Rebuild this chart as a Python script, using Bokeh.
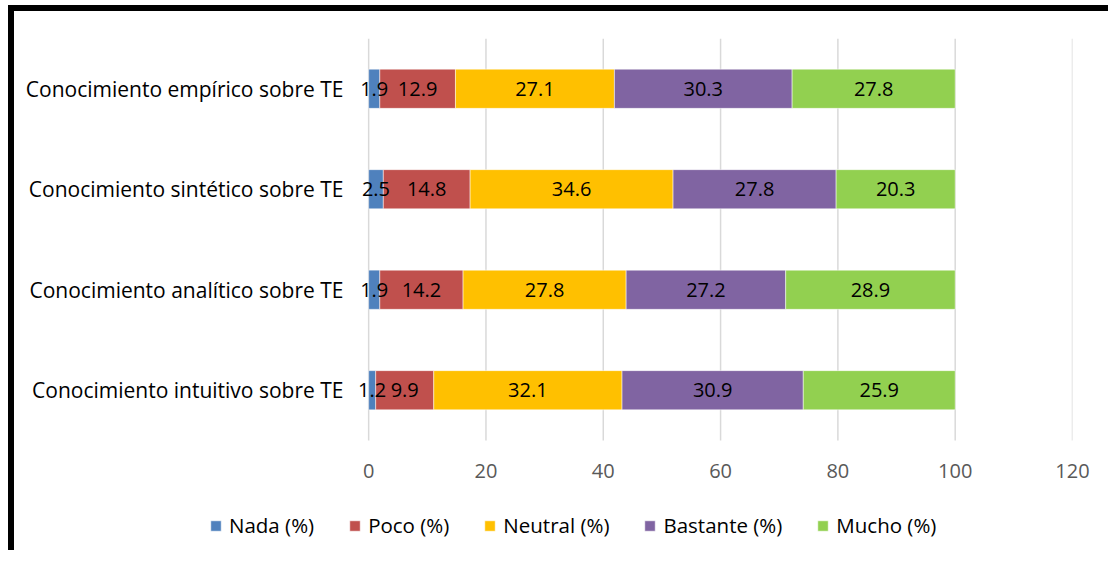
from bokeh.plotting import figure
from bokeh.models import ColumnDataSource, Legend, LegendItem, LabelSet, FixedTicker, Range1d
from bokeh.embed import file_html
from bokeh.resources import INLINE
from bokeh.core.properties import value

categories = ["Conocimiento intuitivo sobre TE", "Conocimiento analítico sobre TE",
              "Conocimiento sintético sobre TE", "Conocimiento empírico sobre TE"]
series = ["Nada (%)", "Poco (%)", "Neutral (%)", "Bastante (%)", "Mucho (%)"]
nada = [1.2, 1.9, 2.5, 1.9]
poco = [9.9, 14.2, 14.8, 12.9]
neutral = [32.1, 27.8, 34.6, 27.1]
bastante = [30.9, 27.2, 27.8, 30.3]
mucho = [25.9, 28.9, 20.3, 27.8]
colors = ["#4F81BD", "#C0504D", "#FFC000", "#8064A2", "#92D050"]
x_ticks = [0, 20, 40, 60, 80, 100, 120]

FONT = "Open Sans"

ypos = list(range(len(categories)))
data = {"y": ypos}
keys = ["nada", "poco", "neutral", "bastante", "mucho"]
vals = [nada, poco, neutral, bastante, mucho]
for k, v in zip(keys, vals):
    data[k] = v
src = ColumnDataSource(data)

n = len(categories)
# frame extends below the bars to hold the legend (room of ~1.045 category rows)
p = figure(x_range=Range1d(-28.67, 120), y_range=Range1d(-1.545, n - 0.5),
           frame_width=872, frame_height=507,
           output_backend="svg", toolbar_location=None,
           min_border_left=186, min_border_top=27, min_border_right=36, min_border_bottom=5)
p.styles = {"border-left": "6px solid black", "border-top": "6px solid black",
            "margin-left": "8px", "margin-top": "5px"}

# vertical gridlines at the tick positions, spanning the category area only
p.segment(x0=x_ticks, y0=[-0.5] * len(x_ticks), x1=x_ticks, y1=[n - 0.5] * len(x_ticks),
          line_color="#D9D9D9", line_width=1.5)

renderers = p.hbar_stack(keys, y="y", height=0.39, color=colors, source=src,
                         line_color="white", line_width=0.5)

# labels centered in segments
left = [0.0] * n
for k, v in zip(keys, vals):
    mids = [l + x / 2 for l, x in zip(left, v)]
    lsrc = ColumnDataSource(dict(x=mids, y=ypos, t=[f"{x:g}" for x in v]))
    p.add_layout(LabelSet(x="x", y="y", text="t", source=lsrc, text_align="center",
                          text_baseline="middle", text_font=value(FONT),
                          text_font_size="20px", text_color="black"))
    left = [l + x for l, x in zip(left, v)]

p.xaxis.ticker = FixedTicker(ticks=x_ticks)
p.yaxis.ticker = FixedTicker(ticks=ypos)
p.yaxis.major_label_overrides = {i: c for i, c in zip(ypos, categories)}
p.xgrid.grid_line_color = None
p.ygrid.grid_line_color = None
p.outline_line_color = None
for ax in (p.xaxis, p.yaxis):
    ax.axis_line_color = None
    ax.major_tick_line_color = None
    ax.minor_tick_line_color = None
    ax.major_label_text_font = FONT
p.xaxis.major_label_text_font_size = "20px"
p.xaxis.major_label_text_color = "#595959"
p.xaxis.major_label_standoff = -88
p.yaxis.major_label_text_font_size = "21px"
p.yaxis.major_label_text_color = "black"
p.yaxis.major_label_standoff = -149

legend = Legend(items=[LegendItem(label=s, renderers=[r]) for s, r in zip(series, renderers)],
                orientation="horizontal", location=(9, 6),
                glyph_width=13, glyph_height=13, label_standoff=7, spacing=34,
                label_text_font=FONT, label_text_font_size="20.5px", label_text_color="black",
                border_line_color=None, background_fill_alpha=0, margin=0, padding=0)
p.add_layout(legend, "center")

open("out.html", "w").write(file_html(p, INLINE))
